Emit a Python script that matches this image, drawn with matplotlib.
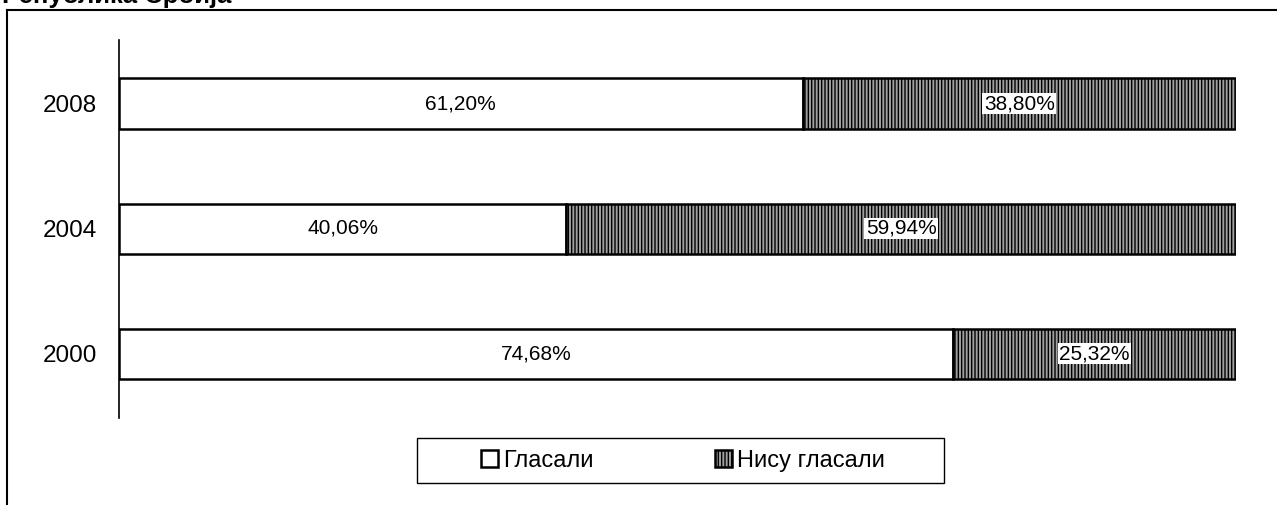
import numpy as np
import matplotlib
matplotlib.use('Agg')
import matplotlib.pyplot as plt
from matplotlib.lines import Line2D
from matplotlib.patches import Rectangle

plt.rcParams['font.family'] = ['Liberation Sans', 'DejaVu Sans']
plt.rcParams['hatch.linewidth'] = 1.0
plt.rcParams['hatch.color'] = 'black'

# Data
years = ['2000', '2004', '2008']
voted = [74.68, 40.06, 61.20]
not_voted = [25.32, 59.94, 38.80]
series_names = ['Гласали', 'Нису гласали']
title = 'Република Србија'

fig = plt.figure(figsize=(12.77, 5.05), dpi=100)
ax = fig.add_axes([119/1277, 1 - 418/505, (1236 - 119)/1277, (418 - 40)/505])

y = np.arange(len(years))
h = 0.4
b1 = ax.barh(y, voted, height=h, color='white', edgecolor='black', linewidth=1.8)
b2 = ax.barh(y, not_voted, height=h, left=voted, color='#a0a0a0',
             edgecolor='black', linewidth=1.8, hatch='|||||')

# value labels
for i in range(len(years)):
    ax.text(voted[i] / 2, y[i], f'{voted[i]:.2f}%'.replace('.', ','),
            ha='center', va='center', fontsize=15)
    ax.text(voted[i] + not_voted[i] / 2, y[i], f'{not_voted[i]:.2f}%'.replace('.', ','),
            ha='center', va='center', fontsize=15,
            bbox=dict(facecolor='white', edgecolor='none', pad=1))

ax.set_xlim(0, 100)
ax.set_ylim(-0.516, 2.508)
ax.set_yticks(y)
ax.set_yticklabels(years, fontsize=17.5)
ax.tick_params(axis='y', length=0, pad=16)
ax.set_xticks([])
for s in ['top', 'right', 'bottom']:
    ax.spines[s].set_visible(False)
ax.spines['left'].set_linewidth(1.2)

# legend frame drawn by hand, legend entries without frame
fig.add_artist(Rectangle((417/1277, 1 - 483/505), (944 - 417)/1277, 45/505,
                         transform=fig.transFigure, facecolor='none',
                         edgecolor='black', linewidth=1.0))
leg = fig.legend([b1[0], b2[0]], series_names, loc='center',
                 bbox_to_anchor=(683/1277, 1 - 461/505), ncol=2, fontsize=17,
                 frameon=False, handlelength=0.72, handleheight=0.72,
                 handletextpad=0.22, columnspacing=5.1, borderaxespad=0)

# outer frame of the chart area
fig.add_artist(Line2D([7/1277, 7/1277], [0, 1 - 10/505], color='black', linewidth=1.5))
fig.add_artist(Line2D([7/1277, 1], [1 - 10/505, 1 - 10/505], color='black', linewidth=1.5))

# title, cut by the top edge as in the source
fig.text(2/1277, 1 - 3/505, title, fontsize=18.5, fontweight='bold',
         ha='left', va='baseline')

fig.savefig('out.png', dpi=100)
